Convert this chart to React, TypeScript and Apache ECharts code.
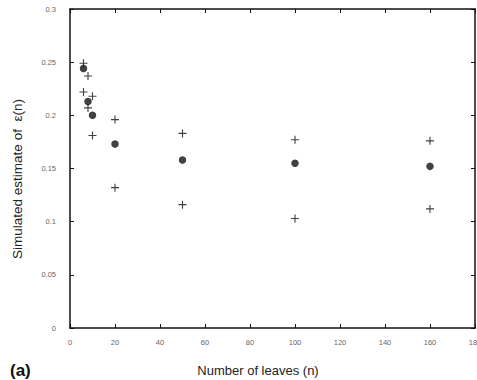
import React, { useEffect, useRef } from "react";
import * as echarts from "echarts";

const leaves = [6, 8, 10, 20, 50, 100, 160];
const meanEst = [0.244, 0.213, 0.2, 0.173, 0.158, 0.155, 0.152];
const upperEst = [0.249, 0.237, 0.218, 0.196, 0.183, 0.177, 0.176];
const lowerEst = [0.222, 0.207, 0.181, 0.132, 0.116, 0.103, 0.112];

const plusPath = "path://M4.3,0H5.7V4.3H10V5.7H5.7V10H4.3V5.7H0V4.3H4.3Z";

export default function App() {
  const ref = useRef<HTMLDivElement>(null);
  useEffect(() => {
    if (!ref.current) return;
    const chart = echarts.init(ref.current, null, { renderer: "svg" });
    const pts = (ys: number[]) => leaves.map((x, i) => [x, ys[i]]);
    const labelStyle = () => ({ color: "#666", fontSize: 7.5, fontFamily: "Liberation Sans, Arial, sans-serif" });
    const line = () => ({ show: true, onZero: false, lineStyle: { color: "#111", width: 1.5 } });
    const tick = () => ({ show: true, inside: true, length: 4, lineStyle: { color: "#111", width: 1 } });
    chart.setOption({
      animation: false,
      backgroundColor: "#fff",
      grid: {
        left: 70, right: 2, top: 9, bottom: 52, containLabel: false, outerBoundsMode: "none",
      },
      xAxis: [
        {
          type: "value", min: 0, max: 180, interval: 20, position: "bottom",
          axisLine: line(), axisTick: tick(), splitLine: { show: false },
          axisLabel: { ...labelStyle(), margin: 10 },
        },
        {
          type: "value", min: 0, max: 180, interval: 20, position: "top",
          axisLine: line(), axisTick: tick(), splitLine: { show: false },
          axisLabel: { show: false },
        },
      ],
      yAxis: [
        {
          type: "value", min: 0, max: 0.3, interval: 0.05, position: "left",
          axisLine: line(), axisTick: tick(), splitLine: { show: false },
          axisLabel: { ...labelStyle(), margin: 14 },
        },
        {
          type: "value", min: 0, max: 0.3, interval: 0.05, position: "right",
          axisLine: line(), axisTick: tick(), splitLine: { show: false },
          axisLabel: { show: false },
        },
      ],
      series: [
        {
          type: "scatter", name: "mean", data: pts(meanEst), symbol: "circle", symbolSize: 7.5,
          itemStyle: { color: "#111" },
        },
        {
          type: "scatter", name: "upper", data: pts(upperEst), symbol: plusPath, symbolSize: 8,
          itemStyle: { color: "#111" },
        },
        {
          type: "scatter", name: "lower", data: pts(lowerEst), symbol: plusPath, symbolSize: 8,
          itemStyle: { color: "#111" },
        },
      ],
      graphic: [
        {
          type: "text", x: 17, y: 179, rotation: Math.PI / 2,
          style: {
            text: "Simulated estimate of  ε(n)", fill: "#222", fontSize: 13.5,
            fontFamily: "Liberation Sans, Arial, sans-serif", align: "center", verticalAlign: "middle",
          },
        },
        {
          type: "text", x: 258, y: 370,
          style: {
            text: "Number of leaves (n)", fill: "#222", fontSize: 13,
            fontFamily: "Liberation Sans, Arial, sans-serif", align: "center", verticalAlign: "middle",
          },
        },
        {
          type: "text", x: 10, y: 370,
          style: {
            text: "(a)", fill: "#111", fontSize: 17, fontWeight: "bold",
            fontFamily: "Liberation Sans, Arial, sans-serif", align: "left", verticalAlign: "middle",
          },
        },
      ],
    });
    return () => chart.dispose();
  }, []);
  return <div ref={ref} style={{ position: "fixed", left: 0, top: 0, width: 477, height: 380 }} />;
}
